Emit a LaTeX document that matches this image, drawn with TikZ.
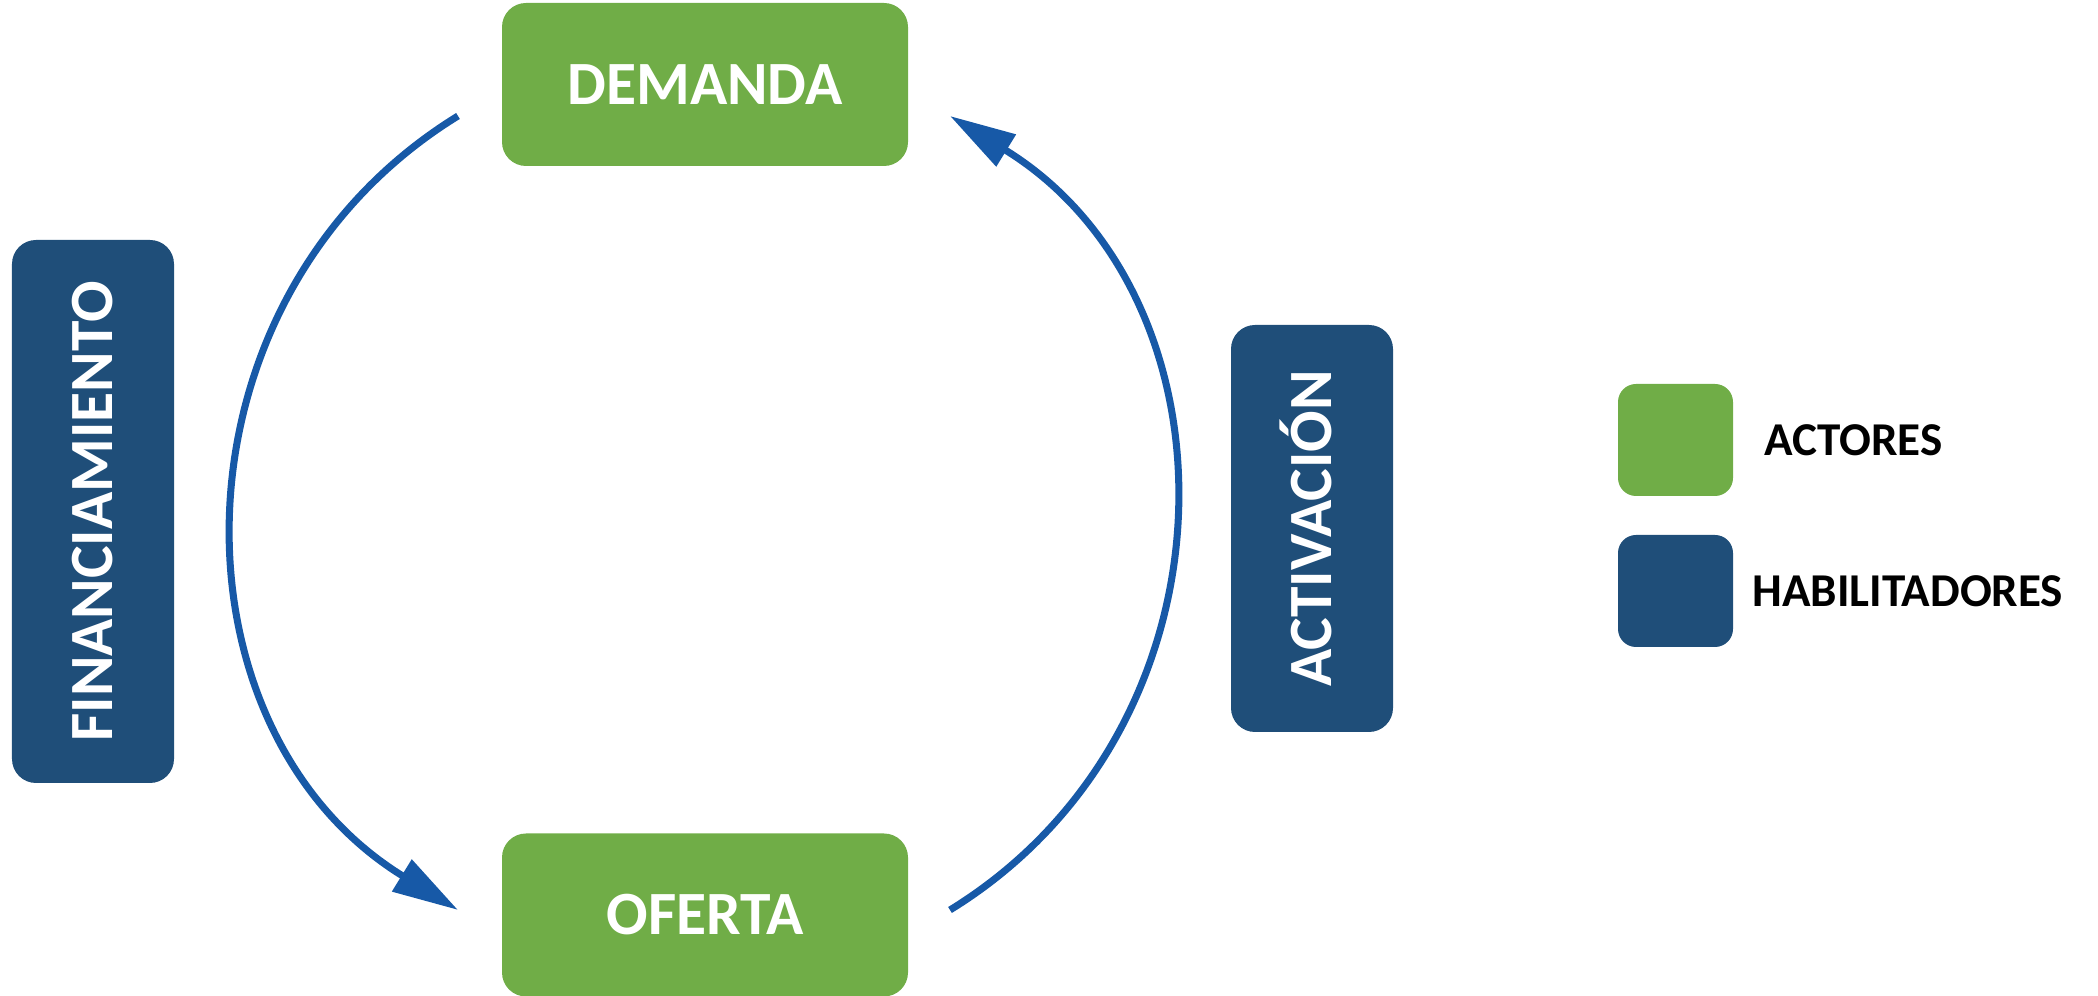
\documentclass[tikz,border=0pt]{standalone}
\usepackage{fontspec}
\setmainfont{Carlito}
\usetikzlibrary{arrows.meta,positioning}
\definecolor{actorgreen}{HTML}{70AD47}
\definecolor{enablerblue}{HTML}{1F4E79}
\definecolor{loopblue}{RGB}{23,89,167}
\begin{document}
\begin{tikzpicture}
                [actor/.style={rectangle, rounded corners=0.24cm, fill=actorgreen, text=white, font=\fontsize{17.5}{21}\selectfont\bfseries, minimum width=4.06cm, minimum height=1.63cm, inner sep=0pt, text height=11.2pt, text depth=0pt},
                 enabler/.style={rectangle, rounded corners=0.24cm, fill=enablerblue, text=white, font=\fontsize{17.5}{21}\selectfont\bfseries, rotate=90, minimum height=1.62cm, inner sep=0pt, text height=11.2pt, text depth=0pt},
                 keybox/.style={rectangle, rounded corners=0.18cm, minimum width=1.15cm, minimum height=1.12cm, inner sep=0pt},
                 keytext/.style={font=\fontsize{13.4}{16}\selectfont\bfseries, inner sep=0pt, text height=8.6pt, text depth=0pt},
                 loopline/.style={draw=loopblue, line width=2pt, looseness=1.12, -{Triangle[length=6.6mm, width=3.6mm]}}]
                \useasboundingbox (0,0) rectangle (20.98,9.96);
                % Define nodes
                \node[actor] (demanda) at (7.05,9.115) {DEMANDA};
                \node[actor] (oferta) at (7.05,0.81) {OFERTA};
                \node[enabler, minimum width=5.43cm] (financiamiento) at (0.93,4.845) {FINANCIAMIENTO};
                \node[enabler, minimum width=4.07cm] (activacion) at (13.12,4.675) {ACTIVACIÓN};
                % Define legend
                \node[keybox, fill=actorgreen] (keyactor) at (16.755,5.56) {};
                \node[keybox, fill=enablerblue] (keyenabler) at (16.755,4.05) {};
                \node[keytext, right=0.30cm of keyactor] (actorlabel) {ACTORES};
                \node[keytext, right=0.18cm of keyenabler] (enablerlabel) {HABILITADORES};
                % Define arc ends
                \coordinate (lefttop) at (4.58,8.80);
                \coordinate (leftbottom) at (4.58,0.86);
                \coordinate (rightbottom) at (9.50,0.86);
                \coordinate (righttop) at (9.50,8.80);
                % Define arcs
                \draw[loopline] (lefttop) to[out=211.6, in=148.4] (leftbottom);
                \draw[loopline] (rightbottom) to[out=31.6, in=-31.6] (righttop);
            \end{tikzpicture}
\end{document}
